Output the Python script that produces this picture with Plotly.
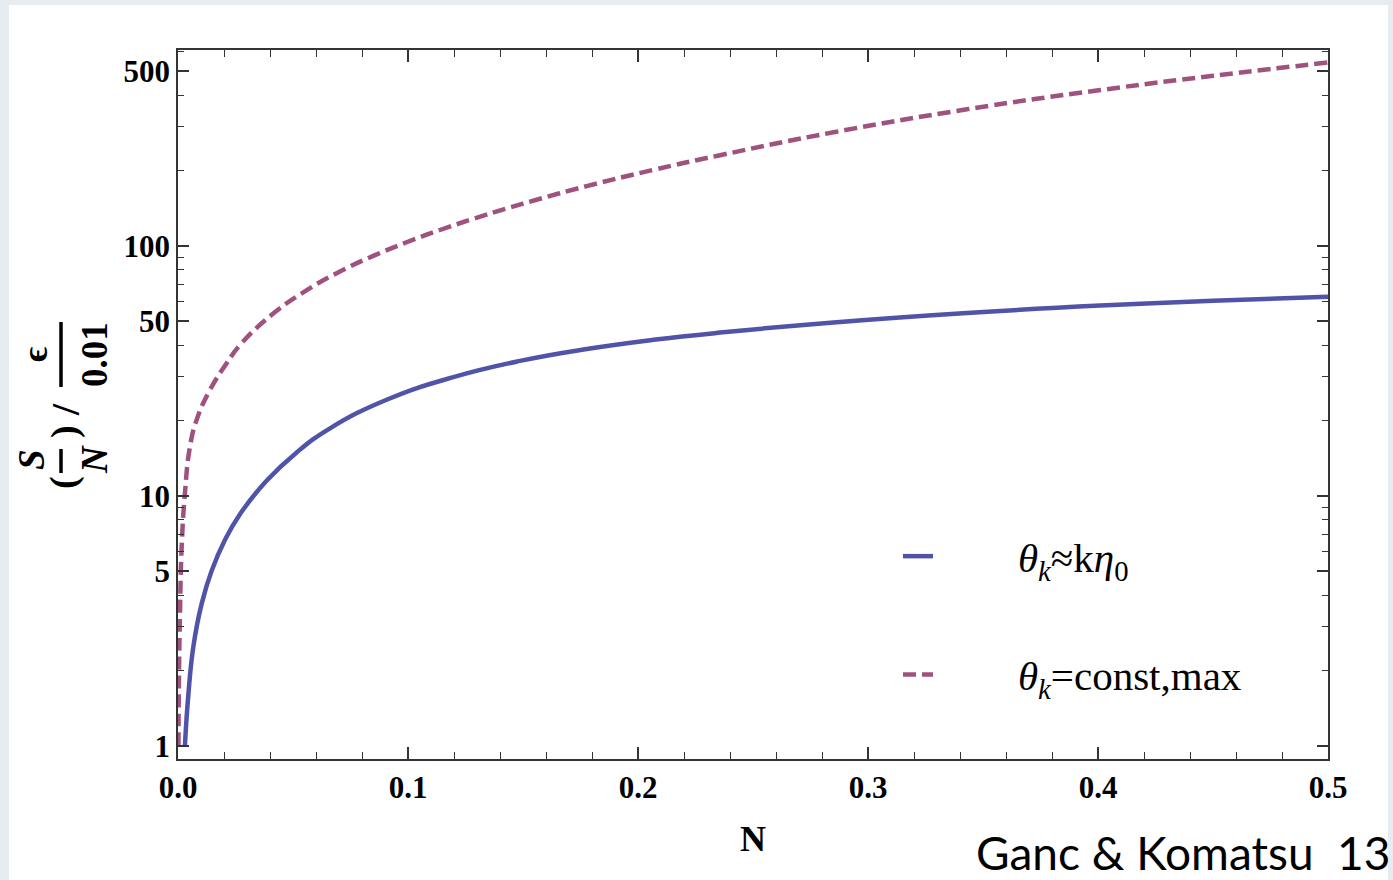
import plotly.graph_objects as go
import numpy as np

# --- data ---
n_solid = [0.003, 0.0045, 0.0067, 0.0103, 0.0146, 0.0204, 0.027, 0.0386, 0.0516, 0.0661,
           0.0907, 0.1197, 0.1487, 0.1777, 0.2067, 0.2357, 0.285, 0.343, 0.401, 0.45, 0.5]
v_solid = [1.0, 1.6, 2.5, 3.7, 5.0, 6.65, 8.45, 11.5, 14.9, 18.6,
           24.2, 29.8, 34.6, 38.6, 42.0, 44.9, 49.3, 53.8, 57.6, 60.2, 62.5]

n_dash = [0.0002, 0.0004, 0.00087, 0.0016, 0.003, 0.0052, 0.0081, 0.0139, 0.0212, 0.027,
          0.0414, 0.056, 0.0704, 0.0849, 0.0994, 0.1139, 0.1284, 0.1429, 0.1574, 0.1777,
          0.2067, 0.2357, 0.285, 0.343, 0.401, 0.45, 0.5]
v_dash = [1.0, 1.8, 3.4, 6.25, 10.2, 15.7, 20.1, 26.5, 33.9, 40.1,
          53.5, 66.4, 78.8, 91.0, 103.2, 115.5, 128.0, 140.8, 154.0, 173.0,
          201, 230, 284, 351, 419, 478, 540]

name_solid = "<i>θ<sub>k</sub></i>≈k<i>η</i><sub>0</sub>"
name_dash = "<i>θ<sub>k</sub></i>=const,max"

x_ticks = [0.0, 0.1, 0.2, 0.3, 0.4, 0.5]
x_ticklabels = ["0.0", "0.1", "0.2", "0.3", "0.4", "0.5"]
x_minor = [round(0.02 * i, 2) for i in range(26)]
y_ticks = [1, 5, 10, 50, 100, 500]
y_ticklabels = ["1", "5", "10", "50", "100", "500"]
y_minor = [d * m for d in (1, 10, 100) for m in (2, 3, 4, 6, 7, 8, 9)]

SOLID = "#5054A8"
DASH = "#A0527F"
SERIF = "Liberation Serif"
PAD = "\u00a0" * 7 + "\u2009"

fig = go.Figure()
fig.add_trace(go.Scatter(x=n_solid, y=v_solid, mode="lines", name=PAD + name_solid,
                         line=dict(color=SOLID, width=4.5, shape="spline", smoothing=1.3),
                         legendgroup="a"))
fig.add_trace(go.Scatter(x=n_dash, y=v_dash, mode="lines", name=PAD + name_dash,
                         line=dict(color=DASH, width=4.5, dash="13px,6px", shape="spline", smoothing=1.3),
                         legendgroup="b"))

L, R, T, B = 178, 65, 50, 121
W, H = 1393, 880
pw, ph = W - L - R, H - T - B


def px(x):
    return (x - L) / pw


def py(y):
    return (H - B - y) / ph


axis_common = dict(showline=True, linecolor="#333", linewidth=1.5, mirror="ticks",
                   ticks="inside", tickcolor="#333", tickwidth=1.5, showgrid=False,
                   zeroline=False,
                   tickfont=dict(family=SERIF, size=31, color="black", weight="bold"))

fig.update_xaxes(range=[0, 0.5], tickvals=x_ticks, ticktext=x_ticklabels, ticklen=12,
                 minor=dict(tickvals=x_minor, ticklen=7, ticks="inside", tickcolor="#333", tickwidth=1.2),
                 title=dict(text="<b>N</b>", font=dict(family=SERIF, size=36, color="black"), standoff=22),
                 **axis_common)
fig.update_yaxes(type="log", range=[np.log10(0.885), np.log10(606)], tickvals=y_ticks,
                 ticktext=y_ticklabels, ticklen=11,
                 minor=dict(tickvals=y_minor, ticklen=6, ticks="inside", tickcolor="#333", tickwidth=1.2),
                 **axis_common)

shapes = [
    dict(type="rect", xref="paper", yref="paper", x0=px(9), x1=px(1388), y0=py(880), y1=py(5),
         fillcolor="white", line=dict(width=0), layer="below"),
    dict(type="line", xref="paper", yref="paper", x0=px(61), x1=px(61), y0=py(449), y1=py(473),
         line=dict(color="black", width=3.5)),
    dict(type="line", xref="paper", yref="paper", x0=px(61), x1=px(61), y0=py(322), y1=py(387),
         line=dict(color="black", width=3.5)),
]

ann = []
def rot(text, x, y, size=37):
    ann.append(dict(text=text, x=px(x), y=py(y), xref="paper", yref="paper", showarrow=False,
                    textangle=-90, xanchor="center", yanchor="middle",
                    font=dict(family=SERIF, size=size, color="black")))

rot("<b>(</b>", 64, 483, 38)
rot("<b><i>S</i></b>", 31, 460)
rot("<b><i>N</i></b>", 94, 460)
rot("<b>)</b>", 64, 432, 38)
rot("<b>/</b>", 65, 410, 40)
rot("<b>ϵ</b>", 35, 355, 36)
rot("<b>0.01</b>", 94, 355)

ann.append(dict(text="Ganc &amp; Komatsu\u00a0\u00a013", x=px(1391), y=py(852), xref="paper", yref="paper",
                showarrow=False, xanchor="right", yanchor="middle", borderpad=0,
                font=dict(family="Lato", size=46, color="black")))

fig.update_layout(
    width=W, height=H, margin=dict(l=L, r=R, t=T, b=B),
    paper_bgcolor="#E6ECEF", plot_bgcolor="white",
    shapes=shapes, annotations=ann,
    showlegend=True,
    legend=dict(x=px(898), y=py(523), xanchor="left", yanchor="top", bgcolor="rgba(0,0,0,0)",
                font=dict(family=SERIF, size=41, color="black"), tracegroupgap=62,
                traceorder="grouped"),
)

fig.write_html("out.html")
